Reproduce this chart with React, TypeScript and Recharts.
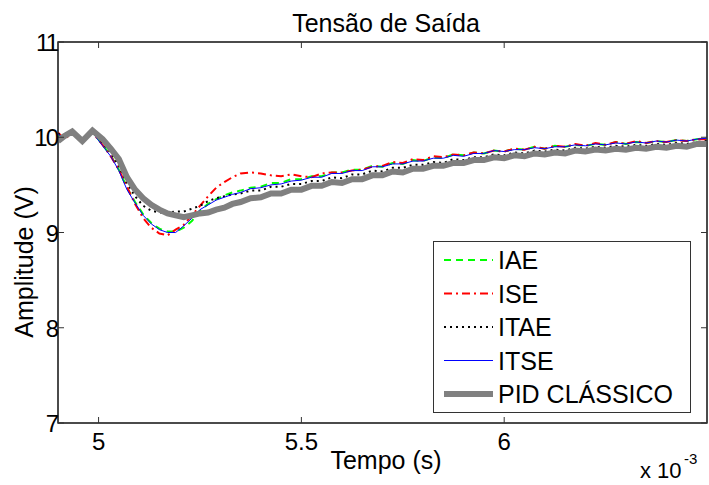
import { LineChart, Line, XAxis, YAxis, Legend, ReferenceArea } from 'recharts';

// tempo em ms (eixo mostrado com fator x 10^-3)
const tempo = [
  4.9, 4.915, 4.935, 4.96, 4.985, 5.01, 5.03, 5.05, 5.07, 5.09, 5.11, 5.13, 5.15, 5.17, 5.19, 5.21,
  5.23, 5.25, 5.27, 5.29, 5.31, 5.33, 5.35, 5.375, 5.4, 5.425, 5.45, 5.475, 5.5, 5.525, 5.55, 5.575,
  5.6, 5.625, 5.65, 5.675, 5.7, 5.725, 5.75, 5.775, 5.8, 5.825, 5.85, 5.875, 5.9, 5.925, 5.95, 5.975,
  6.0, 6.025, 6.05, 6.075, 6.1, 6.125, 6.15, 6.175, 6.2, 6.225, 6.25, 6.275, 6.3, 6.325, 6.35, 6.375,
  6.4, 6.425, 6.45, 6.475, 6.5,
];

const iae = [
  10.02, 10.01, 10.05, 9.97, 10.06, 9.92, 9.81, 9.66, 9.47, 9.32, 9.19, 9.1, 9.04, 9.01, 9.01, 9.05,
  9.12, 9.23, 9.3, 9.35, 9.39, 9.42, 9.44, 9.47, 9.48, 9.52, 9.52, 9.56, 9.56, 9.59, 9.59, 9.63,
  9.63, 9.66, 9.66, 9.7, 9.69, 9.73, 9.72, 9.76, 9.75, 9.79, 9.78, 9.82, 9.81, 9.84, 9.83, 9.86,
  9.85, 9.88, 9.87, 9.9, 9.88, 9.91, 9.9, 9.92, 9.91, 9.93, 9.92, 9.95, 9.93, 9.95, 9.94, 9.96,
  9.95, 9.97, 9.96, 9.98, 9.99,
];

const ise = [
  10.05, 9.98, 10.04, 9.98, 10.05, 9.92, 9.8, 9.66, 9.48, 9.3, 9.15, 9.05, 8.99, 8.97, 9.03, 9.08,
  9.18, 9.28, 9.38, 9.47, 9.53, 9.58, 9.62, 9.63, 9.62, 9.6, 9.59, 9.61, 9.59, 9.58, 9.62, 9.63,
  9.63, 9.65, 9.66, 9.69, 9.7, 9.74, 9.73, 9.77, 9.76, 9.8, 9.79, 9.82, 9.81, 9.84, 9.83, 9.86,
  9.85, 9.88, 9.87, 9.9, 9.88, 9.91, 9.9, 9.93, 9.91, 9.94, 9.92, 9.95, 9.93, 9.96, 9.94, 9.96,
  9.95, 9.97, 9.96, 9.98, 9.98,
];

const itae = [
  10.04, 10.0, 10.06, 9.98, 10.05, 9.94, 9.84, 9.7, 9.52, 9.38, 9.28, 9.23, 9.21, 9.21, 9.22, 9.22,
  9.25, 9.28, 9.33, 9.36, 9.38, 9.4, 9.41, 9.44, 9.44, 9.48, 9.48, 9.51, 9.51, 9.54, 9.54, 9.58,
  9.57, 9.61, 9.61, 9.65, 9.64, 9.68, 9.68, 9.71, 9.71, 9.74, 9.73, 9.77, 9.76, 9.79, 9.79, 9.82,
  9.81, 9.84, 9.83, 9.86, 9.85, 9.87, 9.86, 9.89, 9.88, 9.9, 9.89, 9.91, 9.9, 9.92, 9.91, 9.93,
  9.92, 9.94, 9.93, 9.95, 9.96,
];

const itse = [
  10.03, 10.0, 10.05, 9.97, 10.05, 9.91, 9.8, 9.65, 9.45, 9.31, 9.18, 9.09, 9.03, 9.0, 9.0, 9.07,
  9.15, 9.24, 9.29, 9.34, 9.37, 9.4, 9.42, 9.46, 9.47, 9.5, 9.51, 9.54, 9.55, 9.58, 9.58, 9.62,
  9.62, 9.65, 9.65, 9.69, 9.69, 9.72, 9.72, 9.75, 9.75, 9.78, 9.78, 9.81, 9.8, 9.83, 9.83, 9.86,
  9.85, 9.87, 9.87, 9.89, 9.88, 9.9, 9.9, 9.92, 9.91, 9.93, 9.92, 9.94, 9.93, 9.95, 9.94, 9.96,
  9.95, 9.97, 9.96, 9.98, 9.99,
];

const pidClassico = [
  9.96, 10.01, 10.06, 9.96, 10.07, 9.98, 9.88, 9.77, 9.58, 9.45, 9.36, 9.29, 9.24, 9.2, 9.18, 9.16,
  9.18, 9.2, 9.21, 9.24, 9.26, 9.3, 9.32, 9.36, 9.37, 9.41, 9.41, 9.45, 9.45, 9.49, 9.49, 9.53,
  9.52, 9.56, 9.56, 9.6, 9.6, 9.64, 9.63, 9.67, 9.67, 9.7, 9.7, 9.73, 9.73, 9.76, 9.76, 9.79,
  9.78, 9.81, 9.8, 9.83, 9.82, 9.84, 9.83, 9.86, 9.85, 9.87, 9.86, 9.88, 9.87, 9.89, 9.88, 9.9,
  9.89, 9.91, 9.9, 9.93, 9.93,
];

const xTicks = [5, 5.5, 6];
const yTicks = [7, 8, 9, 10, 11];

const data = tempo.map((t, i) => ({
  t,
  iae: iae[i],
  ise: ise[i],
  itae: itae[i],
  itse: itse[i],
  pid: pidClassico[i],
}));

const series = [
  { key: 'iae', name: 'IAE', color: '#00ff00', width: 2, dash: '7 5' },
  { key: 'ise', name: 'ISE', color: '#ff0000', width: 2, dash: '8 4 2 4' },
  { key: 'itae', name: 'ITAE', color: '#000000', width: 2, dash: '2 4' },
  { key: 'itse', name: 'ITSE', color: '#0000ff', width: 1, dash: undefined },
  { key: 'pid', name: 'PID CLÁSSICO', color: '#808080', width: 6, dash: undefined },
];

const FONT = '"Liberation Sans", Arial, Helvetica, sans-serif';
const AXIS = '#333333';

const BottomTick = ({ x, y, payload }: any) => (
  <g>
    <line x1={x} x2={x} y1={y} y2={y - 6} stroke={AXIS} />
    <text x={x} y={y + 27} textAnchor="middle" fontSize={24} fontFamily={FONT} fill="#000">
      {payload.value}
    </text>
  </g>
);

const TopTick = ({ x, y }: any) => <line x1={x} x2={x} y1={y} y2={y + 6} stroke={AXIS} />;

const LeftTick = ({ x, y, payload }: any) => (
  <g>
    <line x1={x} x2={x + 6} y1={y} y2={y} stroke={AXIS} />
    <text x={x - 1} y={y + 9} textAnchor="end" fontSize={24} fontFamily={FONT} letterSpacing={-2} fill="#000">
      {payload.value}
    </text>
  </g>
);

const RightTick = ({ x, y }: any) => <line x1={x} x2={x - 6} y1={y} y2={y} stroke={AXIS} />;

const LegendBox = () => (
  <div
    style={{
      position: 'absolute',
      left: 433,
      top: 241,
      width: 256,
      height: 170,
      border: `1px solid ${AXIS}`,
      background: '#fff',
      boxSizing: 'content-box',
    }}
  >
    <svg width={256} height={170}>
      {series.map((s, i) => (
        <g key={s.key}>
          <line
            x1={10}
            x2={59}
            y1={18 + i * 33.5}
            y2={18 + i * 33.5}
            stroke={s.color}
            strokeWidth={s.width}
            strokeDasharray={s.dash}
          />
          <text x={64} y={27 + i * 33.5} fontSize={25} fontFamily={FONT} fill="#000">
            {s.name}
          </text>
        </g>
      ))}
    </svg>
  </div>
);

export default function App() {
  return (
    <div style={{ position: 'absolute', left: 0, top: 0, width: 709, height: 485, background: '#fff' }}>
      <LineChart width={709} height={485} data={data} margin={{ top: 41, right: 1, left: 0, bottom: 0 }}>
        <XAxis
          dataKey="t"
          type="number"
          domain={[4.9, 6.5]}
          ticks={xTicks}
          allowDataOverflow
          height={62}
          stroke={AXIS}
          tickLine={false}
          tickSize={0}
          tickMargin={0}
          tick={<BottomTick />}
        />
        <XAxis
          xAxisId="top"
          dataKey="t"
          type="number"
          orientation="top"
          domain={[4.9, 6.5]}
          ticks={xTicks}
          allowDataOverflow
          height={1}
          stroke={AXIS}
          tickLine={false}
          tickSize={0}
          tickMargin={0}
          tick={<TopTick />}
        />
        <YAxis
          type="number"
          domain={[7, 11]}
          ticks={yTicks}
          allowDataOverflow
          width={58}
          stroke={AXIS}
          tickLine={false}
          tickSize={0}
          tickMargin={0}
          tick={<LeftTick />}
        />
        <YAxis
          yAxisId="right"
          orientation="right"
          type="number"
          domain={[7, 11]}
          ticks={yTicks}
          allowDataOverflow
          width={1}
          stroke={AXIS}
          tickLine={false}
          tickSize={0}
          tickMargin={0}
          tick={<RightTick />}
        />
        <ReferenceArea x1={4.9} x2={6.5} y1={7} y2={11} fill="none" stroke={AXIS} strokeWidth={1.5} ifOverflow="visible" />
        <Legend content={() => null} />
        {series.map((s) => (
          <Line
            key={s.key}
            dataKey={s.key}
            name={s.name}
            type="linear"
            stroke={s.color}
            strokeWidth={s.width}
            strokeDasharray={s.dash}
            dot={false}
            isAnimationActive={false}
          />
        ))}
      </LineChart>
      <svg
        width={709}
        height={485}
        style={{ position: 'absolute', left: 0, top: 0, pointerEvents: 'none' }}
        fontFamily={FONT}
      >
        <text x={386} y={32} textAnchor="middle" fontSize={25} fill="#000">
          Tensão de Saída
        </text>
        <text x={386} y={469} textAnchor="middle" fontSize={25} fill="#000">
          Tempo (s)
        </text>
        <text x={640} y={478} fontSize={22} fill="#000">
          x 10
        </text>
        <text x={684} y={464} fontSize={15} fill="#000">
          -3
        </text>
        <text transform="translate(33 262) rotate(-90)" textAnchor="middle" fontSize={25} fill="#000">
          Amplitude (V)
        </text>
      </svg>
      <LegendBox />
    </div>
  );
}
